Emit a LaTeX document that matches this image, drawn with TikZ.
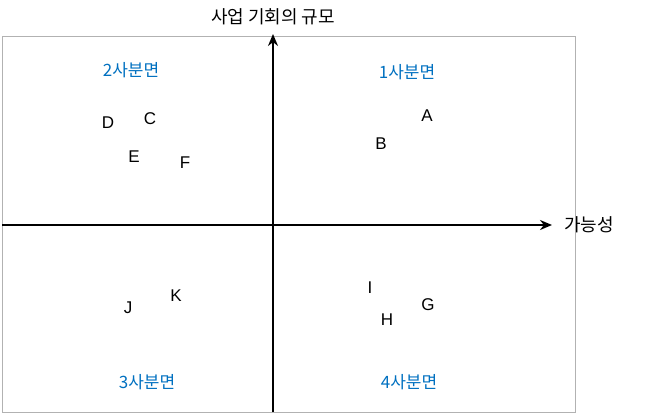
\documentclass[tikz,border=0pt]{standalone}
\usepackage{fontspec}
\usetikzlibrary{arrows.meta}
\setmainfont{Liberation Sans}
\newfontfamily\cjk{Noto Sans CJK KR}
\begin{document}
\begin{tikzpicture}[x=1pt,y=-1pt,
 q/.style={text=qblue,font=\cjk\fontsize{17}{20}\selectfont},
 pt/.style={font=\fontsize{17}{20}\selectfont},
 ax/.style={line width=2pt,-{Stealth[length=12pt,width=10pt]}}]
\definecolor{qblue}{RGB}{0,112,192}
\useasboundingbox (0,0) rectangle (658,414);
\draw[gray!60] (2,36) rectangle (575,412);
\coordinate (vb) at (273,412); \coordinate (vt) at (273,34);
\coordinate (hl) at (2,225); \coordinate (hr) at (552,225);
\draw[ax] (vb) -- (vt);
\draw[ax] (hl) -- (hr);
\node[font=\cjk\fontsize{18}{21}\selectfont] (ty) at (273,17) {사업 기회의 규모};
\node[font=\cjk\fontsize{18}{21}\selectfont] (tx) at (589,225) {가능성};
\node[q] (q2) at (131,70) {2사분면};
\node[q] (q1) at (407,72) {1사분면};
\node[q] (q3) at (147,382) {3사분면};
\node[q] (q4) at (409,382) {4사분면};
\node[pt] (D) at (108,123) {D};
\node[pt] (C) at (150,119) {C};
\node[pt] (E) at (134,157) {E};
\node[pt] (F) at (185,163) {F};
\node[pt] (A) at (427,116) {A};
\node[pt] (B) at (381,144) {B};
\node[pt] (K) at (176,296) {K};
\node[pt] (J) at (128,308) {J};
\node[pt] (I) at (370,288) {I};
\node[pt] (H) at (387,320) {H};
\node[pt] (G) at (428,305) {G};
\end{tikzpicture}
\end{document}
